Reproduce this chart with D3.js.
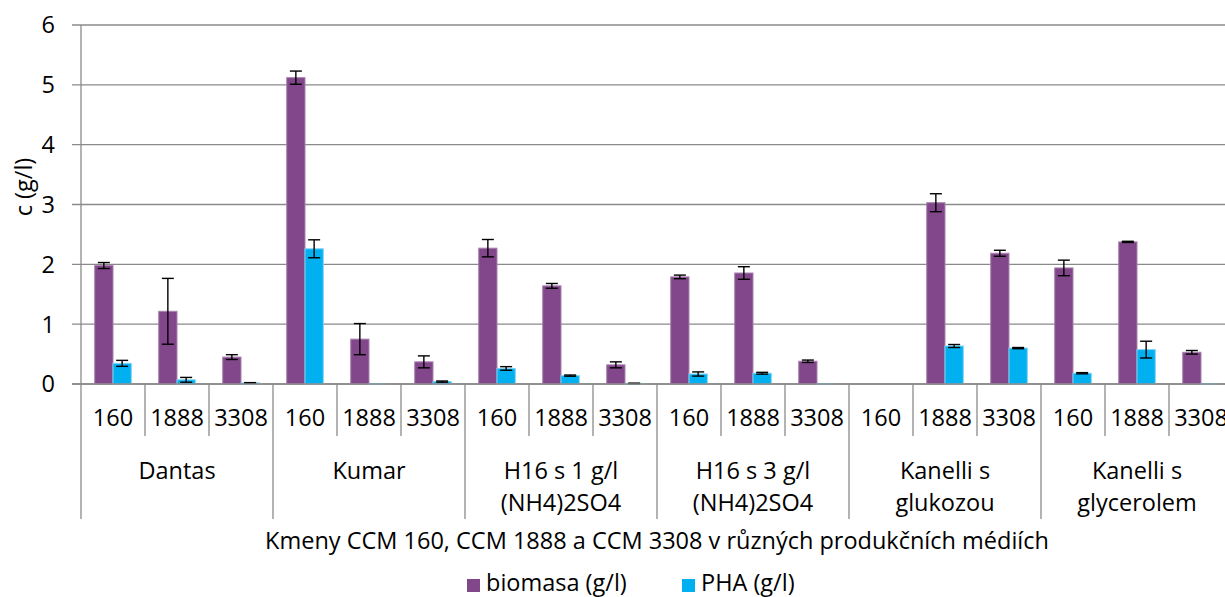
<!DOCTYPE html>
<html>
<head>
<meta charset="utf-8">
<script src="https://cdn.jsdelivr.net/npm/d3@7"></script>
<style>
  html, body { margin: 0; padding: 0; background: #fff; overflow: hidden; }
  svg { display: block; font-family: "Open Sans", "Noto Sans", sans-serif; }
</style>
</head>
<body>
<svg id="chart" width="1225" height="597"></svg>
<script>
// ---- data ----
const media = [
  ["Dantas"],
  ["Kumar"],
  ["H16 s 1 g/l", "(NH4)2SO4"],
  ["H16 s 3 g/l", "(NH4)2SO4"],
  ["Kanelli s", "glukozou"],
  ["Kanelli s", "glycerolem"]
];
const strains = ["160", "1888", "3308"];
const seriesNames = ["biomasa (g/l)", "PHA (g/l)"];
const biomasa    = [1.98, 1.215, 0.45,  5.12, 0.75, 0.37,  2.27, 1.64, 0.32,  1.79, 1.855, 0.38,  0, 3.03, 2.185,  1.94, 2.375, 0.53];
const biomasaErr = [0.05, 0.55, 0.04,   0.11, 0.26, 0.10,  0.145, 0.04, 0.05, 0.03, 0.105, 0.02,  0, 0.15, 0.05,   0.13, 0.01, 0.03];
const pha        = [0.345, 0.07, 0.018, 2.26, 0.005, 0.04, 0.26, 0.14, 0.01,  0.167, 0.18, 0.005, 0, 0.635, 0.60,  0.18, 0.575, 0.005];
const phaErr     = [0.05, 0.04, 0.005,  0.15, 0, 0.01,     0.03, 0.01, 0.004, 0.035, 0.015, 0,    0, 0.025, 0.01,  0.01, 0.14, 0];
const yTicks = [0, 1, 2, 3, 4, 5, 6];
const yTitle = "c (g/l)";
const xTitle = "Kmeny CCM 160, CCM 1888 a CCM 3308 v různých produkčních médiích";
const colors = ["#82468A", "#00B0F0"];

// ---- layout ----
const svg = d3.select("#chart");
const pLeft = 81, pRight = 1233, pTop = 25, pBottom = 384;
const FS = 23.5;

const keys = [];
media.forEach((m, gi) => strains.forEach((s, si) => keys.push(gi + "|" + si)));

const x = d3.scaleBand().domain(keys).range([pLeft, pRight]).paddingInner(0).paddingOuter(0);
const xs = d3.scaleBand().domain(seriesNames).range([0, x.bandwidth()]).paddingInner(0).paddingOuter(0.75);
const y = d3.scaleLinear().domain([0, 6]).range([pBottom, pTop]);

// gridlines
svg.append("g").selectAll("line").data(yTicks).join("line")
  .attr("x1", pLeft - 9).attr("x2", pRight)
  .attr("y1", d => y(d)).attr("y2", d => y(d))
  .attr("stroke", "#8a8a8a").attr("stroke-width", 1.3);

// y axis line
svg.append("line").attr("x1", pLeft).attr("x2", pLeft).attr("y1", y(6)).attr("y2", pBottom)
  .attr("stroke", "#8a8a8a").attr("stroke-width", 1.3);

// y tick labels
svg.append("g").selectAll("text").data(yTicks).join("text")
  .attr("x", 55).attr("y", d => y(d)).attr("dy", "0.36em")
  .attr("text-anchor", "end").attr("font-size", FS).attr("fill", "#000")
  .text(d => d);

// y title
svg.append("text")
  .attr("transform", "translate(32,187) rotate(-90)")
  .attr("text-anchor", "middle").attr("font-size", FS).attr("fill", "#000")
  .text(yTitle);

// bars
const seriesData = [
  {name: seriesNames[0], vals: biomasa, errs: biomasaErr, color: colors[0], stroke: "#a983b0"},
  {name: seriesNames[1], vals: pha, errs: phaErr, color: colors[1], stroke: "#7fd3f5"}
];
seriesData.forEach(s => {
  const g = svg.append("g");
  g.selectAll("rect").data(keys).join("rect")
    .attr("x", k => x(k) + xs(s.name))
    .attr("width", xs.bandwidth())
    .attr("y", (k, i) => y(s.vals[i]))
    .attr("height", (k, i) => y(0) - y(s.vals[i]))
    .attr("fill", s.color)
    .attr("stroke", (k, i) => s.vals[i] === 0 ? "#b0b0b0" : s.stroke)
    .attr("stroke-width", 1);
  // error bars
  const eg = svg.append("g").attr("stroke", "#000").attr("stroke-width", 1.4);
  keys.forEach((k, i) => {
    const e = s.errs[i];
    if (!e) return;
    const cx = x(k) + xs(s.name) + xs.bandwidth() / 2;
    const y1 = y(s.vals[i] + e), y2 = y(Math.max(0, s.vals[i] - e));
    eg.append("line").attr("x1", cx).attr("x2", cx).attr("y1", y1).attr("y2", y2);
    eg.append("line").attr("x1", cx - 6).attr("x2", cx + 6).attr("y1", y1).attr("y2", y1);
    eg.append("line").attr("x1", cx - 6).attr("x2", cx + 6).attr("y1", y2).attr("y2", y2);
  });
});

// x axis line
svg.append("line").attr("x1", pLeft - 9).attr("x2", pRight).attr("y1", pBottom).attr("y2", pBottom)
  .attr("stroke", "#8a8a8a").attr("stroke-width", 1.3);

// category dividers
const axisG = svg.append("g").attr("stroke", "#8a8a8a").attr("stroke-width", 1.3);
keys.forEach((k, i) => {
  const isGroup = i % strains.length === 0;
  axisG.append("line")
    .attr("x1", x(k)).attr("x2", x(k))
    .attr("y1", pBottom).attr("y2", isGroup ? 519 : 436);
});
axisG.append("line").attr("x1", pRight).attr("x2", pRight).attr("y1", pBottom).attr("y2", 519);

// strain labels
svg.append("g").selectAll("text").data(keys).join("text")
  .attr("x", k => x(k) + x.bandwidth() / 2)
  .attr("y", 418).attr("dy", "0.36em")
  .attr("text-anchor", "middle").attr("font-size", FS).attr("fill", "#000")
  .text((k, i) => strains[i % strains.length]);

// group labels
const groupX = gi => x(gi + "|0") + x.bandwidth() * strains.length / 2;
media.forEach((lines, gi) => {
  lines.forEach((ln, li) => {
    svg.append("text")
      .attr("x", groupX(gi)).attr("y", 471 + li * 32).attr("dy", "0.36em")
      .attr("text-anchor", "middle").attr("font-size", FS).attr("fill", "#000")
      .text(ln);
  });
});

// x title
svg.append("text")
  .attr("x", 657).attr("y", 541).attr("dy", "0.36em")
  .attr("text-anchor", "middle").attr("font-size", FS).attr("fill", "#000")
  .text(xTitle);

// legend
const legendItems = [
  {name: seriesNames[0], color: colors[0], x: 467},
  {name: seriesNames[1], color: colors[1], x: 682}
];
legendItems.forEach(it => {
  svg.append("rect").attr("x", it.x).attr("y", 579).attr("width", 13).attr("height", 13).attr("fill", it.color);
  svg.append("text").attr("x", it.x + 19).attr("y", 583).attr("dy", "0.36em")
    .attr("font-size", FS).attr("fill", "#000").text(it.name);
});
</script>
</body>
</html>
